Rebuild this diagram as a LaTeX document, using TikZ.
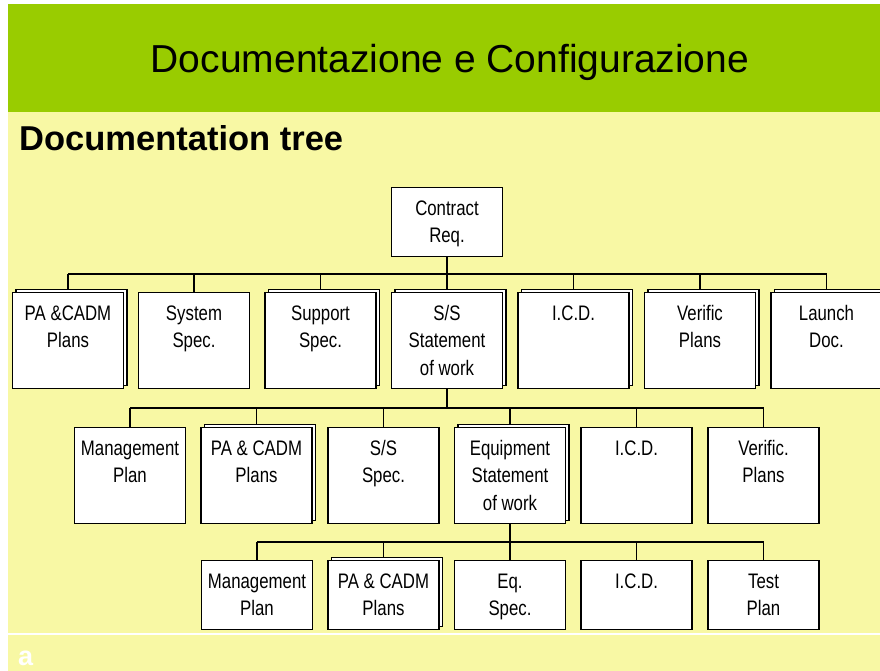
\documentclass[tikz,border=0pt]{standalone}
\usepackage{fontspec}
\setmainfont{Liberation Sans}
\newfontfamily\boxfont[FakeStretch=0.8]{Liberation Sans}
\definecolor{hdrgreen}{RGB}{153,204,0}
\definecolor{bgyellow}{RGB}{248,248,164}
\tikzset{
  box/.style={draw=black, fill=white, line width=1.2pt, inner sep=0pt,
    minimum width=111pt, minimum height=#1, anchor=north},
  box/.default=96pt,
  txt/.style={inner sep=0pt, align=center, anchor=north,
    font=\boxfont\fontsize{21}{27.5}\selectfont},
  conn/.style={draw=black, line width=1.2pt}
}
% name, center x, top y, height, text
\newcommand{\dbox}[5]{%
  \node[box=#4] (#1) at (#2,#3) {};
  \node[txt] (#1t) at ([yshift=-9pt]#1.north) {\strut #5};
}
% stacked (double) box
\newcommand{\stbox}[5]{%
  \node[box=#4] (#1B) at (#2+3.5,#3-3.5) {};
  \node[box=#4] (#1) at (#2,#3) {};
  \node[txt] (#1t) at ([yshift=-9pt]#1.north) {\strut #5};
}
\begin{document}
\begin{tikzpicture}[x=1pt,y=-1pt]
\useasboundingbox (0,0) rectangle (880,671);
\fill[white] (0,0) rectangle (880,671);
\fill[hdrgreen] (8,4) rectangle (880,112.5);
\fill[bgyellow] (8,112.5) rectangle (880,671);
\draw[white, line width=2pt] (8,633.5) -- (880,633.5);
\node[anchor=base, inner sep=0pt, font=\fontsize{39}{46}\selectfont] (title) at (450,73) {Documentazione e Configurazione};
\node[anchor=base west, inner sep=0pt, font=\bfseries\fontsize{34.5}{40}\selectfont] (sect) at (19,151) {Documentation tree};
\node[anchor=base west, inner sep=0pt, text=white, font=\bfseries\fontsize{27}{32}\selectfont] (foot) at (18,665) {a};

\coordinate (bus1) at (447,274);
\coordinate (bus2) at (447,408);
\coordinate (bus3) at (510,542);

% top
\dbox{cr}{447}{187}{69pt}{Contract\\Req.}

% row 1
\stbox{ra}{68}{292}{96pt}{PA \&CADM\\Plans}
\dbox{rb}{194}{292}{96pt}{System\\Spec.}
\stbox{rc}{320.5}{292}{96pt}{Support\\Spec.}
\stbox{rd}{447}{292}{96pt}{S/S\\Statement\\of work}
\stbox{re}{573.5}{292}{96pt}{I.C.D.}
\stbox{rf}{700}{292}{96pt}{Verific\\Plans}
\stbox{rg}{826.5}{292}{96pt}{Launch\\Doc.}

% row 2
\dbox{sa}{130}{427}{96pt}{Management\\Plan}
\stbox{sb}{256.5}{427}{96pt}{PA \& CADM\\Plans}
\dbox{sc}{383.5}{427}{96pt}{S/S\\Spec.}
\stbox{sd}{510}{427}{96pt}{Equipment\\Statement\\of work}
\dbox{se}{636.5}{427}{96pt}{I.C.D.}
\dbox{sf}{763.5}{427}{96pt}{Verific.\\Plans}

% row 3
\dbox{ta}{257}{560}{69pt}{Management\\Plan}
\stbox{tb}{383.5}{560}{69pt}{PA \& CADM\\Plans}
\dbox{tc}{510}{560}{69pt}{Eq.\\Spec.}
\dbox{td}{636.5}{560}{69pt}{I.C.D.}
\dbox{te}{763.5}{560}{69pt}{Test\\Plan}

% tree 1
\draw[conn] (cr.south) -- (rdB.north -| cr.south);
\draw[conn] (ra.north |- bus1) -- (rg.north |- bus1);
\foreach \n in {ra,rc,re,rf,rg} \draw[conn] (\n.north |- bus1) -- (\n.north |- \n B.north);
\draw[conn] (rb.north |- bus1) -- (rb.north);
% tree 2
\draw[conn] (rd.south) -- (rd.south |- bus2);
\draw[conn] (sa.north |- bus2) -- (sf.north |- bus2);
\foreach \n in {sa,sc,se,sf} \draw[conn] (\n.north |- bus2) -- (\n.north);
\foreach \n in {sb,sd} \draw[conn] (\n.north |- bus2) -- (\n.north |- \n B.north);
% tree 3
\draw[conn] (sd.south) -- (sd.south |- bus3);
\draw[conn] (ta.north |- bus3) -- (te.north |- bus3);
\foreach \n in {ta,tc,td,te} \draw[conn] (\n.north |- bus3) -- (\n.north);
\draw[conn] (tb.north |- bus3) -- (tb.north |- tbB.north);
\end{tikzpicture}
\end{document}
